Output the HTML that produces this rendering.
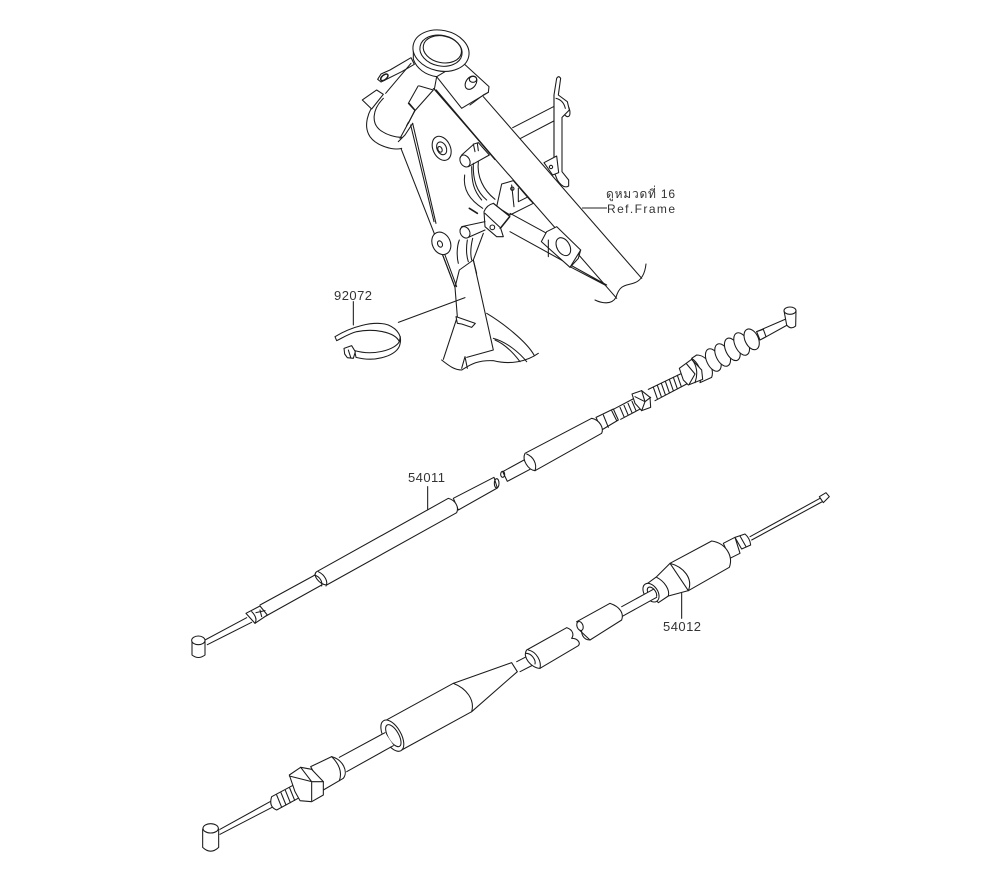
<!DOCTYPE html>
<html><head><meta charset="utf-8"><style>
html,body{margin:0;padding:0;background:#fff}
svg{display:block}
.g{fill:none;stroke:#1c1c1c;stroke-width:3.2;stroke-linejoin:round;stroke-linecap:round}
.w{fill:#fff}
.n{fill:#fff;stroke:none}
text{fill:#333;stroke:none}
</style></head><body>
<svg width="1000" height="880" viewBox="0 0 1000 880" xmlns="http://www.w3.org/2000/svg">
<!-- FRAME -->
<g class="g" transform="translate(330,40) scale(.33333)">
 <path d="M548 263L690 190M570 296L700 228"/>
 <ellipse class="w" cx="707" cy="208" rx="11" ry="23" transform="rotate(-20 707 208)"/>
 <path class="w" d="M672 165L680 115Q686 105 692 115L685 165L712 185L718 210L696 232V395L716 420L716 438Q700 448 682 420L672 395Z"/>
 <path d="M672 165V352M678 175Q700 180 706 205"/>
 <path class="w" d="M642 368L680 348L686 398L668 405Z"/><circle cx="663" cy="381" r="5"/>
 <path class="w" d="M500 500L515 432L550 422L600 480L610 490L540 525Z"/>
 <path d="M565 445V485L595 470M545 435L552 500"/><circle cx="547" cy="446" r="5"/>
 <path d="M430 370C428 420 440 455 470 480M445 365C440 410 460 450 495 478M425 380C425 425 430 450 455 480M404 405C398 450 420 480 458 505"/>
 <!-- main tube -->
 <path class="n" d="M310 145L860 775C870 730 890 738 915 728C935 720 945 700 948 672L935 715L460 170Z"/>
 <path d="M460 170L935 715M860 775L310 145"/>
 <path d="M318 150L495 358" stroke-width="4.5"/>
 <path d="M948 672C945 700 935 720 915 728C890 738 870 730 858 772C845 795 815 790 795 780"/>
 <path d="M540 575L830 735M720 680L825 735"/>
 <path d="M540 520L650 580"/>
 <path class="w" d="M634 605L650 575L680 560L752 630L720 682Z"/>
 <path d="M655 600V650M720 682L745 655L752 630"/>
 <ellipse cx="700" cy="620" rx="19" ry="29" transform="rotate(-30 700 620)"/>
 <path class="w" d="M462 515Q470 495 490 490L540 530L512 565L520 590L500 590L465 560Z"/>
 <path d="M465 520L510 562M490 490L538 528M510 565L538 530"/><circle cx="487" cy="562" r="7"/>
 <path d="M395 345L432 312L445 308L478 345L415 380"/><path d="M430 312L435 335M442 310L445 332"/>
 <ellipse class="w" cx="405" cy="363" rx="14" ry="19" transform="rotate(-30 405 363)"/>
 <path d="M395 560L465 545M415 592L465 570"/>
 <ellipse class="w" cx="405" cy="577" rx="14" ry="18" transform="rotate(-30 405 577)"/>
 <path d="M418 505L442 520" stroke-width="5"/>
 <!-- gusset -->
 <path d="M205 305L340 650L375 742L388 690L430 660M248 250L318 550M242 255L312 545M235 247L205 305"/>
 <ellipse cx="335" cy="325" rx="26" ry="38" transform="rotate(-25 335 325)"/>
 <ellipse cx="335" cy="325" rx="14" ry="20" transform="rotate(-25 335 325)"/>
 <ellipse cx="330" cy="328" rx="6" ry="9" transform="rotate(-25 330 328)"/>
 <ellipse class="w" cx="334" cy="610" rx="27" ry="35" transform="rotate(-25 334 610)"/>
 <ellipse cx="330" cy="612" rx="7" ry="10" transform="rotate(-25 330 612)"/>
 <path d="M338 645L375 742M345 645L380 740"/>
 <path d="M388 600C380 620 380 650 385 670M412 600C408 625 410 650 415 665M428 595C422 620 420 640 425 660M460 580L430 660L440 700"/>
 <path d="M375 742L382 830L340 958M430 660L490 930L410 952"/>
 <path class="w" d="M378 830L436 850L425 862L395 852L382 850Z"/>
 <path d="M470 820C520 850 590 905 612 945M490 895C530 905 570 940 590 965M495 900C530 915 555 945 570 965"/>
 <path d="M335 960C360 980 375 990 395 990C420 975 440 960 490 962C540 975 590 965 625 940"/>
 <path d="M395 985L405 950L412 985"/>
 <!-- left ring -->
 <path class="n" d="M145 175C110 215 100 260 120 290C140 318 190 332 215 325L240 270L150 175Z"/>
 <path d="M145 175C110 215 100 260 120 290C140 318 190 332 215 325"/>
 <path d="M160 175C125 210 125 250 150 270C170 285 195 292 215 292"/>
 <path class="w" d="M97 180L140 150L160 163L125 207Z"/>
 <path class="w" d="M235 190L265 137L310 150L255 212Z"/>
 <path d="M205 305L225 285L248 250M210 295L255 212"/>
 <path d="M205 847L405 773"/>
 <path d="M70 785V855"/>
</g>
<!-- STRAP -->
<g class="g" transform="translate(320,280) scale(.33333)">
 <path class="w" d="M45 170C90 142 160 120 205 135C235 148 246 170 240 192C235 225 170 248 108 232L104 212C160 228 225 210 238 185C225 155 160 145 110 155C90 160 70 172 50 182Z"/>
 <path d="M238 185L241 170"/>
 <path class="w" d="M72 205L95 197L106 215L100 235L82 233L74 222Z"/>
 <path d="M85 210L92 232"/>
</g>
<!-- HEAD -->
<g class="g" transform="translate(355,30) scale(.33333)">
 <path class="w" d="M320 95L402 170L400 187L320 235L245 140Z"/>
 <path d="M345 225L385 195L400 187"/>
 <ellipse class="w" cx="348" cy="158" rx="15" ry="22" transform="rotate(35 348 158)"/>
 <ellipse cx="354" cy="148" rx="11" ry="9"/>
 <path class="n" d="M175 60V90C185 115 210 135 245 140L240 175L215 170C200 165 190 165 185 168L140 120L160 85Z"/>
 <path d="M175 60V88C185 115 210 135 245 140L238 178"/>
 <path class="w" d="M168 83L105 120L78 132L68 148L78 156L140 125L178 103Z"/>
 <ellipse cx="88" cy="142" rx="13" ry="7" transform="rotate(-40 88 142)" stroke-width="4.5"/>
 <path d="M168 100L92 190M163 220L180 240L160 280"/>
 <ellipse class="w" cx="258" cy="62" rx="85" ry="61" transform="rotate(12 258 62)"/>
 <ellipse cx="258" cy="62" rx="64" ry="46" transform="rotate(12 258 62)"/>
 <ellipse cx="262" cy="58" rx="58" ry="40" transform="rotate(12 262 58)"/>
</g>
<!-- CABLE 1 right -->
<g class="g" transform="translate(500,290) scale(.33333)">
 <path class="w" d="M8 545L72 510L105 530L22 574Z"/>
 <ellipse cx="8" cy="553" rx="6" ry="9"/>
 <path class="w" d="M288 382L340 357L355 390L305 420Z"/>
 <path d="M310 375L325 412M335 362L350 392"/>
 <path class="w" d="M75 490L275 385C300 390 312 415 305 430L105 542C85 540 65 510 75 490Z"/>
 <path d="M80 492C100 500 112 522 105 542"/>
 <path d="M340 358L412 320M362 388L430 352"/>
 <path d="M360 352L372 380M372 346L384 374M384 340L396 368M396 334L408 362M408 328L420 356"/>
 <path d="M445 298L545 250M465 332L560 282"/>
 <path d="M460 292L472 326M472 286L484 320M484 280L496 314M496 274L508 308M508 268L520 302M520 262L532 296M532 256L544 290"/>
 <path class="w" d="M396 312L425 302L450 322L452 352L425 362L405 340Z"/>
 <path d="M425 302L435 335L425 362M405 320L435 335L452 322"/>
 <path d="M770 125L855 88M788 146L862 105"/>
 <path class="w" d="M770 125L790 118L798 140L780 150Z"/>
 <path class="w" d="M590 195C620 195 645 235 635 262L600 278C610 240 590 215 575 205Z"/>
 <ellipse class="w" cx="640" cy="210" rx="20" ry="36" transform="rotate(-25 640 210)"/>
 <ellipse class="w" cx="668" cy="195" rx="20" ry="36" transform="rotate(-25 668 195)"/>
 <ellipse class="w" cx="697" cy="178" rx="20" ry="36" transform="rotate(-25 697 178)"/>
 <ellipse class="w" cx="725" cy="162" rx="20" ry="36" transform="rotate(-25 725 162)"/>
 <ellipse class="w" cx="755" cy="148" rx="20" ry="33" transform="rotate(-25 755 148)"/>
 <path class="w" d="M538 235L575 208L605 240L608 268L565 285L550 270Z"/>
 <path d="M575 208C590 225 595 250 585 278M560 222L585 252L568 282"/>
 <path class="w" d="M852 62L860 105Q872 120 887 108L888 62Z"/>
 <ellipse class="w" cx="870" cy="62" rx="18" ry="11"/>
</g>
<!-- CABLE 1 left -->
<g class="g" transform="translate(180,460) scale(.33333)">
 <path class="w" d="M820 115L942 52L952 84L835 150Z"/>
 <ellipse cx="950" cy="70" rx="7" ry="14"/>
 <path d="M240 435L405 345M258 468L425 375"/>
 <path class="w" d="M410 335L805 115C825 120 838 140 830 158L440 375C420 375 395 345 410 335Z"/>
 <path d="M415 335C435 345 445 365 438 378M403 345C420 350 428 365 425 378"/>
 <path d="M743 80V150"/>
 <path d="M75 540L200 473M82 554L215 487"/>
 <path class="w" d="M198 460L240 438L262 465L225 490Z"/>
 <path d="M215 455C225 465 232 478 225 490M240 450L245 470M228 458L255 452"/>
 <path class="w" d="M36 541V585Q55 600 75 585V541Z"/>
 <ellipse class="w" cx="55" cy="541" rx="20" ry="13"/>
</g>
<!-- CABLE 2 right -->
<g class="g" transform="translate(500,480) scale(.33333)">
 <path d="M750 170L960 55M755 180L965 66"/>
 <path class="w" d="M958 50L978 38L988 50L970 68Z"/>
 <path class="w" d="M670 190L705 172L720 220L690 235Z"/>
 <path class="w" d="M705 172L735 162Q750 175 752 195L725 207Q715 190 705 172Z"/>
 <path d="M720 168L738 200"/>
 <path class="w" d="M470 290L510 250L565 332L505 348L475 368L432 318Z"/>
 <path d="M470 292C495 305 510 330 505 348"/>
 <ellipse class="w" cx="453" cy="338" rx="20" ry="31" transform="rotate(-35 453 338)"/>
 <ellipse class="w" cx="456" cy="338" rx="11" ry="19" transform="rotate(-35 456 338)"/>
 <path class="w" d="M510 250L635 183C680 190 700 230 688 262L565 332C580 295 550 260 510 250Z"/>
 <path class="n" d="M365 380L460 328L470 352L365 410Z"/>
 <path d="M365 380L460 328M365 410L470 352"/>
 <path d="M545 340V415"/>
 <path class="w" d="M230 425L330 370C360 380 372 400 365 420L270 480C250 480 240 460 247 440Z"/>
 <ellipse class="w" cx="240" cy="438" rx="9" ry="14" transform="rotate(-20 240 438)"/>
 <path d="M240 452L270 480"/>
 <path d="M50 545L85 527M60 575L105 552"/>
 <path class="w" d="M80 510L200 443C220 450 222 465 215 475C235 475 242 490 235 497L120 565C95 565 65 530 80 510Z"/>
 <path d="M85 510C110 515 125 545 120 565M78 520C95 520 108 540 105 552"/>
</g>
<!-- CABLE 2 left -->
<g class="g" transform="translate(180,650) scale(.33333)">
 <path d="M120 538L270 455M120 553L280 470"/>
 <path class="w" d="M995 38L820 100L875 185L1012 65Z"/>
 <path class="w" d="M610 215L820 100C860 115 885 150 875 185L665 300C640 310 590 260 610 215Z"/>
 <ellipse class="w" cx="637" cy="257" rx="26" ry="52" transform="rotate(-30 637 257)"/>
 <ellipse class="w" cx="640" cy="257" rx="16" ry="37" transform="rotate(-30 640 257)"/>
 <path class="n" d="M478 322L615 248L640 285L500 365Z"/>
 <path d="M478 322L615 248M500 365L640 287"/>
 <path class="w" d="M392 350L455 320C490 330 505 365 490 385L430 420Z"/>
 <path d="M455 320C475 340 488 365 478 392"/>
 <path class="w" d="M275 440L365 392L382 430L290 480Q265 470 275 440Z"/>
 <path d="M290 435L305 472M303 428L318 465M316 421L331 458M329 414L344 451M342 407L357 444M355 400L370 437"/>
 <path class="w" d="M328 375L362 352L395 358L430 395V435L395 455L360 452L345 425Z"/>
 <path d="M395 395V452M362 352L395 395L430 395M328 378L395 395"/>
 <path class="w" d="M68 537V592Q92 615 116 592V537Z"/>
 <ellipse class="w" cx="92" cy="535" rx="23" ry="14"/>
</g>
<path d="M582 208H607" stroke="#222" stroke-width="1" fill="none"/>
<text x="334" y="300" font-family="Liberation Sans, sans-serif" font-size="13" textLength="38">92072</text>
<text x="408" y="482" font-family="Liberation Sans, sans-serif" font-size="13" textLength="37">54011</text>
<text x="663" y="631" font-family="Liberation Sans, sans-serif" font-size="13" textLength="38">54012</text>
<text x="606" y="198" font-family="Liberation Sans, 'DejaVu Sans', 'Noto Sans CJK SC', sans-serif" font-size="12" textLength="69">ดูหมวดที่ 16</text>
<text x="607" y="213" font-family="Liberation Sans, sans-serif" font-size="12" textLength="68">Ref.Frame</text>
</svg>
</body></html>
